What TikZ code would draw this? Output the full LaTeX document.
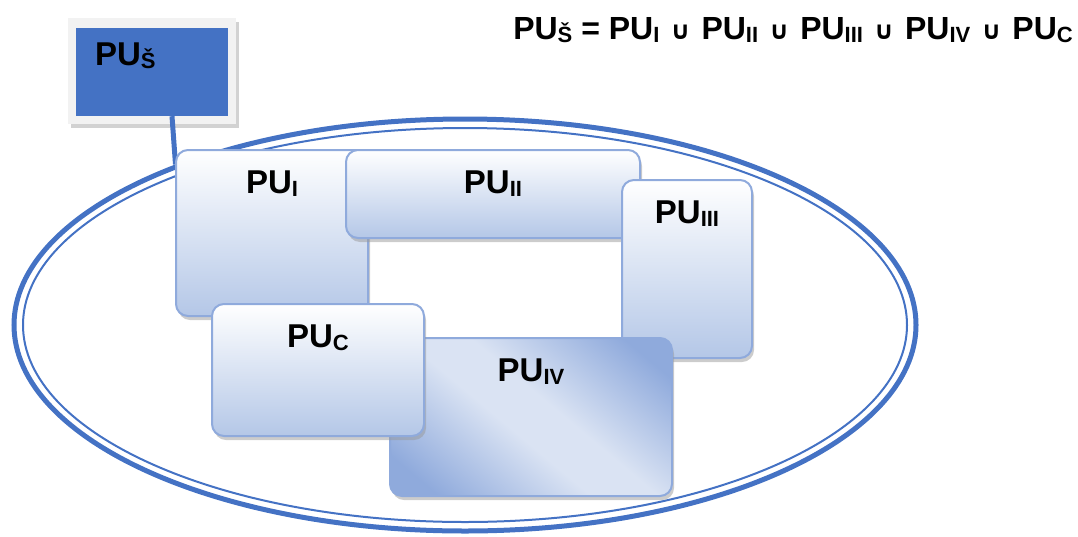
\documentclass[tikz,border=0pt]{standalone}
\usepackage{fontspec}
\setmainfont{Liberation Sans}
\newfontfamily\symfont{DejaVu Sans}
\usetikzlibrary{shapes.geometric,shadows}

\definecolor{puBlue}{HTML}{4472C4}
\definecolor{puEdge}{HTML}{8FAADC}
\definecolor{puLight}{HTML}{B4C7E7}
\definecolor{puPale}{HTML}{DAE3F3}
\definecolor{puGray}{HTML}{F2F2F2}

% pas svetle barve za PU_IV
\pgfdeclareverticalshading{pupas}{100bp}{color(0bp)=(puEdge); color(22bp)=(puEdge);
  color(45bp)=(puPale); color(55bp)=(puPale); color(78bp)=(puEdge); color(100bp)=(puEdge)}

\newcommand{\pusub}[1]{\raisebox{-3pt}{\fontsize{22}{22}\selectfont #1}}
\newcommand{\cupsym}{\kern2pt{\symfont\fontsize{25}{25}\selectfont ∪}\kern2pt}

\tikzset{
  pubox/.style={draw=puEdge, line width=2pt, rounded corners=12pt, inner sep=0pt,
    top color=white, bottom color=puLight,
    drop shadow={shadow xshift=2pt, shadow yshift=-4pt, fill=black!40}},
  pulabel/.style={anchor=north, inner sep=0pt, yshift=-22pt,
    font=\fontsize{33}{36}\selectfont\bfseries},
}

\begin{document}
\begin{tikzpicture}[x=1pt, y=-1pt]
  \useasboundingbox (0,0) rectangle (1078,536);

  % velika elipsa (dvojna crta)
  \node[ellipse, draw=puBlue, line width=5pt, minimum width=902pt, minimum height=412pt] (svet) at (465,325) {};
  \node[ellipse, draw=puBlue, line width=2pt, minimum width=884pt, minimum height=394pt] (svetin) at (465,325) {};

  % okvir PU_S
  \node[draw=none, fill=puGray, minimum width=168pt, minimum height=106pt,
    drop shadow={shadow xshift=3pt, shadow yshift=-4pt, fill=black!35}] (pusokvir) at (152,71) {};
  \node[fill=puBlue, minimum width=152pt, minimum height=88pt,
    label={[anchor=north west, inner sep=0pt, xshift=19pt, yshift=-15pt, font=\fontsize{33}{36}\selectfont\bfseries]north west:PU\pusub{Š}}] (pus) at (152,72) {};

  % veza PU_S -- elipsa
  \draw[puBlue, line width=5pt] ([xshift=20pt]pus.south) -- (svet.151);

  % podrocja
  \node[pubox, minimum width=192pt, minimum height=166pt,
    label={[pulabel]north:PU\pusub{I}}] (pu1) at (272,233) {};
  \node[pubox, minimum width=294pt, minimum height=88pt,
    label={[pulabel]north:PU\pusub{II}}] (pu2) at (493,194) {};
  \node[pubox, minimum width=130pt, minimum height=178pt,
    label={[pulabel]north:PU\pusub{III}}] (pu3) at (687,269) {};
  \node[pubox, minimum width=282pt, minimum height=158pt,
    shading=pupas, shading angle=-40,
    label={[pulabel]north:PU\pusub{IV}}] (pu4) at (531,417) {};
  \node[pubox, minimum width=212pt, minimum height=132pt,
    label={[pulabel]north:PU\pusub{C}}] (puc) at (318,370) {};

  % formula
  \node[anchor=north east, inner sep=0pt, font=\fontsize{32}{36}\selectfont\bfseries] (formula) at (1073,17)
    {PU\pusub{Š} = PU\pusub{I} \cupsym{} PU\pusub{II} \cupsym{} PU\pusub{III} \cupsym{} PU\pusub{IV} \cupsym{} PU\pusub{C}};
\end{tikzpicture}
\end{document}
